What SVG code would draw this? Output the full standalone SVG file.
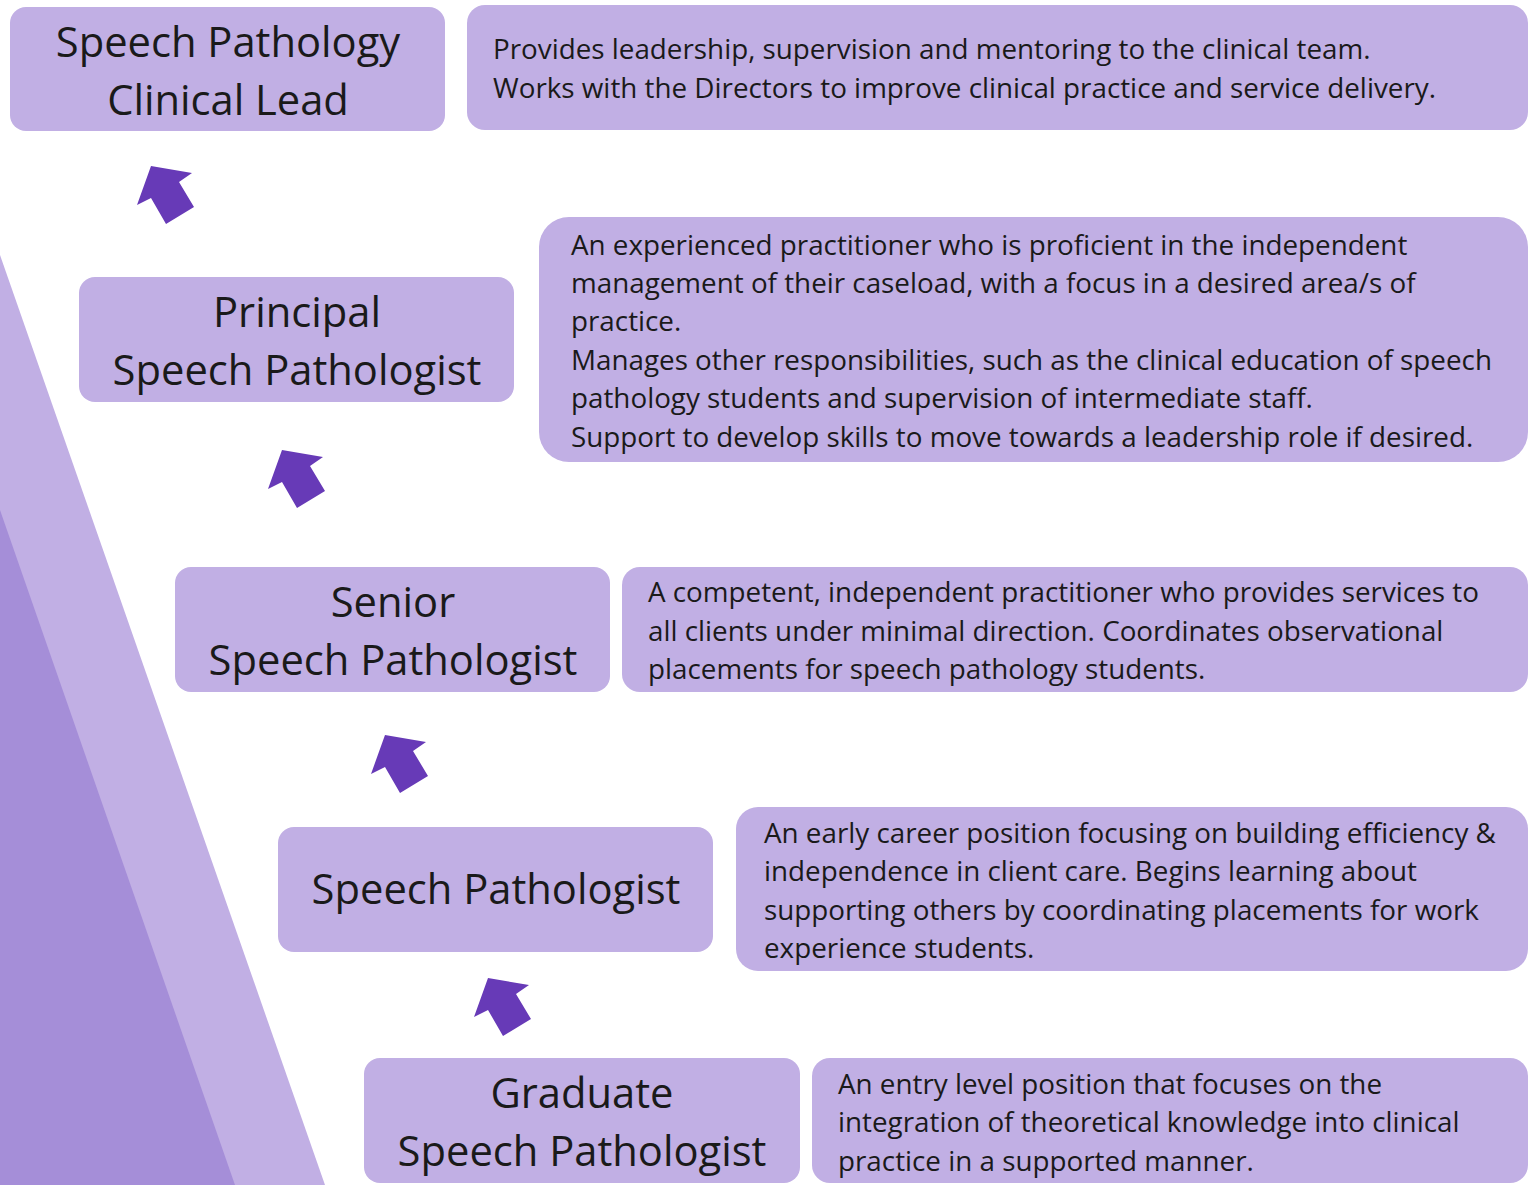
<svg xmlns="http://www.w3.org/2000/svg" width="1530" height="1185" viewBox="0 0 1530 1185">
<defs>
<style>
.box{fill:#c1afe4;}
.tri1{fill:#c1afe4;}
.tri2{fill:#a58ed8;}
.arrow{fill:#673ab7;}
.title{font-family:"Open Sans","Noto Sans",sans-serif;font-size:41.7px;fill:#1a1a1a;text-anchor:middle;}
.desc{font-family:"Open Sans","Noto Sans",sans-serif;font-size:27.8px;fill:#1a1a1a;}
</style>
<polygon id="arr" points="151,166 192,173 179,182 194,207 166,224 151,198 137,205"/>
</defs>
<rect width="1530" height="1185" fill="#ffffff"/>
<g id="background">
<polygon class="tri1" points="0,255 325,1185 0,1185"/>
<polygon class="tri2" points="0,510 235,1185 0,1185"/>
</g>
<g id="connectors">
<use href="#arr" class="arrow"/>
<use href="#arr" class="arrow" transform="translate(131,284)"/>
<use href="#arr" class="arrow" transform="translate(234,569)"/>
<use href="#arr" class="arrow" transform="translate(337,812)"/>
</g>
<g id="clinical-lead">
<rect class="box" x="10" y="7" width="435" height="124" rx="16"/>
<text class="title" x="228" y="57">Speech Pathology</text>
<text class="title" x="228" y="115">Clinical Lead</text>
</g>
<g id="clinical-lead-desc">
<rect class="box" x="467" y="5" width="1061" height="125" rx="18"/>
<text class="desc" x="493" y="59">Provides leadership, supervision and mentoring to the clinical team.</text>
<text class="desc" x="493" y="98">Works with the Directors to improve clinical practice and service delivery.</text>
</g>
<g id="principal">
<rect class="box" x="79" y="277" width="435" height="125" rx="16"/>
<text class="title" x="297" y="327">Principal</text>
<text class="title" x="297" y="385">Speech Pathologist</text>
</g>
<g id="principal-desc">
<rect class="box" x="539" y="217" width="989" height="245" rx="30"/>
<text class="desc" x="571" y="255">An experienced practitioner who is proficient in the independent</text>
<text class="desc" x="571" y="293">management of their caseload, with a focus in a desired area/s of</text>
<text class="desc" x="571" y="331">practice.</text>
<text class="desc" x="571" y="370">Manages other responsibilities, such as the clinical education of speech</text>
<text class="desc" x="571" y="408">pathology students and supervision of intermediate staff.</text>
<text class="desc" x="571" y="447">Support to develop skills to move towards a leadership role if desired.</text>
</g>
<g id="senior">
<rect class="box" x="175" y="567" width="435" height="125" rx="16"/>
<text class="title" x="393" y="617">Senior</text>
<text class="title" x="393" y="675">Speech Pathologist</text>
</g>
<g id="senior-desc">
<rect class="box" x="622" y="567" width="906" height="125" rx="18"/>
<text class="desc" x="648" y="602">A competent, independent practitioner who provides services to</text>
<text class="desc" x="648" y="641">all clients under minimal direction. Coordinates observational</text>
<text class="desc" x="648" y="679">placements for speech pathology students.</text>
</g>
<g id="speech-pathologist">
<rect class="box" x="278" y="827" width="435" height="125" rx="16"/>
<text class="title" x="496" y="904">Speech Pathologist</text>
</g>
<g id="speech-pathologist-desc">
<rect class="box" x="736" y="807" width="792" height="164" rx="22"/>
<text class="desc" x="764" y="843">An early career position focusing on building efficiency &amp;</text>
<text class="desc" x="764" y="881">independence in client care. Begins learning about</text>
<text class="desc" x="764" y="920">supporting others by coordinating placements for work</text>
<text class="desc" x="764" y="958">experience students.</text>
</g>
<g id="graduate">
<rect class="box" x="364" y="1058" width="436" height="125" rx="16"/>
<text class="title" x="582" y="1108">Graduate</text>
<text class="title" x="582" y="1166">Speech Pathologist</text>
</g>
<g id="graduate-desc">
<rect class="box" x="812" y="1058" width="716" height="125" rx="18"/>
<text class="desc" x="838" y="1094">An entry level position that focuses on the</text>
<text class="desc" x="838" y="1132">integration of theoretical knowledge into clinical</text>
<text class="desc" x="838" y="1171">practice in a supported manner.</text>
</g>
</svg>
